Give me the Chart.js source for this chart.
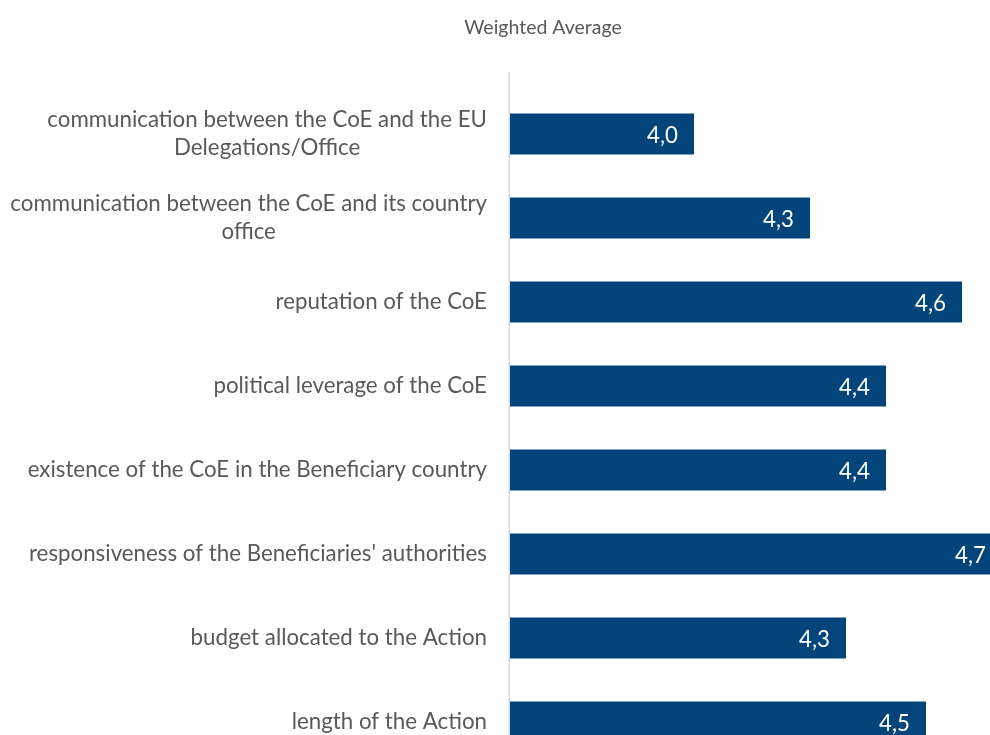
<!DOCTYPE html>
<html lang="en">
<head>
  <meta charset="UTF-8" />
  <title>Weighted Average</title>
  <script src="https://cdn.jsdelivr.net/npm/chart.js"></script>
  <style>
    html, body { margin: 0; padding: 0; background: #fff; overflow: hidden; }
    .box { position: relative; width: 1086px; height: 764px; }
  </style>
</head>
<body>
  <div class="box">
    <canvas id="graficoBarra"></canvas>
  </div>

  <script>
    // data
    const categorias = [
      ['communication between the CoE and the EU', 'Delegations/Office'],
      ['communication between the CoE and its country', 'office'],
      'reputation of the CoE',
      'political leverage of the CoE',
      'existence of the CoE in the Beneficiary country',
      "responsiveness of the Beneficiaries' authorities",
      'budget allocated to the Action',
      'length of the Action'
    ];
    const medias = [3.96, 4.25, 4.63, 4.44, 4.44, 4.73, 4.34, 4.54];
    const titulo = 'Weighted Average';

    const fonte = 'Lato, "Open Sans", sans-serif';
    const cinza = '#595959';
    const azul = '#03457a';

    // vertical axis line, a bit taller than the plot area like in the original
    const linhaEixo = {
      id: 'linhaEixo',
      beforeDatasetsDraw(chart) {
        const { ctx, chartArea } = chart;
        ctx.save();
        ctx.strokeStyle = '#d9d9d9';
        ctx.lineWidth = 1.5;
        ctx.beginPath();
        ctx.moveTo(chartArea.left - 0.75, chartArea.top - 20);
        ctx.lineTo(chartArea.left - 0.75, chartArea.bottom);
        ctx.stroke();
        ctx.restore();
      }
    };

    // category labels: block right aligned, lines centered (Excel style)
    const rotulosCategoria = {
      id: 'rotulosCategoria',
      afterDraw(chart) {
        const { ctx, chartArea } = chart;
        const yScale = chart.scales.y;
        const direita = chartArea.left - 23;
        ctx.save();
        ctx.font = '22.3px ' + fonte;
        ctx.fillStyle = cinza;
        ctx.textBaseline = 'middle';
        ctx.textAlign = 'center';
        categorias.forEach((cat, i) => {
          const linhas = Array.isArray(cat) ? cat : [cat];
          const larg = Math.max(...linhas.map(l => ctx.measureText(l).width));
          const cx = direita - larg / 2;
          const yc = yScale.getPixelForTick(i);
          linhas.forEach((l, j) => {
            ctx.fillText(l, cx, yc + (j - (linhas.length - 1) / 2) * 28);
          });
        });
        ctx.restore();
      }
    };

    // value labels inside the end of each bar
    const rotulosValor = {
      id: 'rotulosValor',
      afterDatasetsDraw(chart) {
        const { ctx } = chart;
        const meta = chart.getDatasetMeta(0);
        ctx.save();
        ctx.font = '22.3px ' + fonte;
        ctx.fillStyle = '#ffffff';
        ctx.textAlign = 'right';
        ctx.textBaseline = 'middle';
        meta.data.forEach((bar, i) => {
          const txt = medias[i].toFixed(1).replace('.', ',');
          ctx.fillText(txt, bar.x - 16, bar.y + 2);
        });
        ctx.restore();
      }
    };

    const ctx = document.getElementById('graficoBarra').getContext('2d');
    new Chart(ctx, {
      type: 'bar',
      data: {
        labels: categorias,
        datasets: [{
          data: medias,
          backgroundColor: azul,
          borderWidth: 0,
          categoryPercentage: 1,
          barPercentage: 0.49
        }]
      },
      options: {
        indexAxis: 'y',
        responsive: true,
        maintainAspectRatio: false,
        animation: false,
        layout: { padding: 0 },
        scales: {
          x: {
            display: false,
            min: 3.5,
            max: 4.94
          },
          y: {
            grid: { display: false, drawTicks: false },
            border: { display: false },
            ticks: { display: false },
            afterFit(scale) { scale.width = 510; }
          }
        },
        plugins: {
          legend: { display: false },
          tooltip: { enabled: false },
          title: {
            display: true,
            text: titulo,
            color: cinza,
            font: { family: fonte, size: 19.5, weight: 'normal' },
            padding: { top: 16, bottom: 52.6 }
          }
        }
      },
      plugins: [linhaEixo, rotulosCategoria, rotulosValor]
    });
  </script>
</body>
</html>
